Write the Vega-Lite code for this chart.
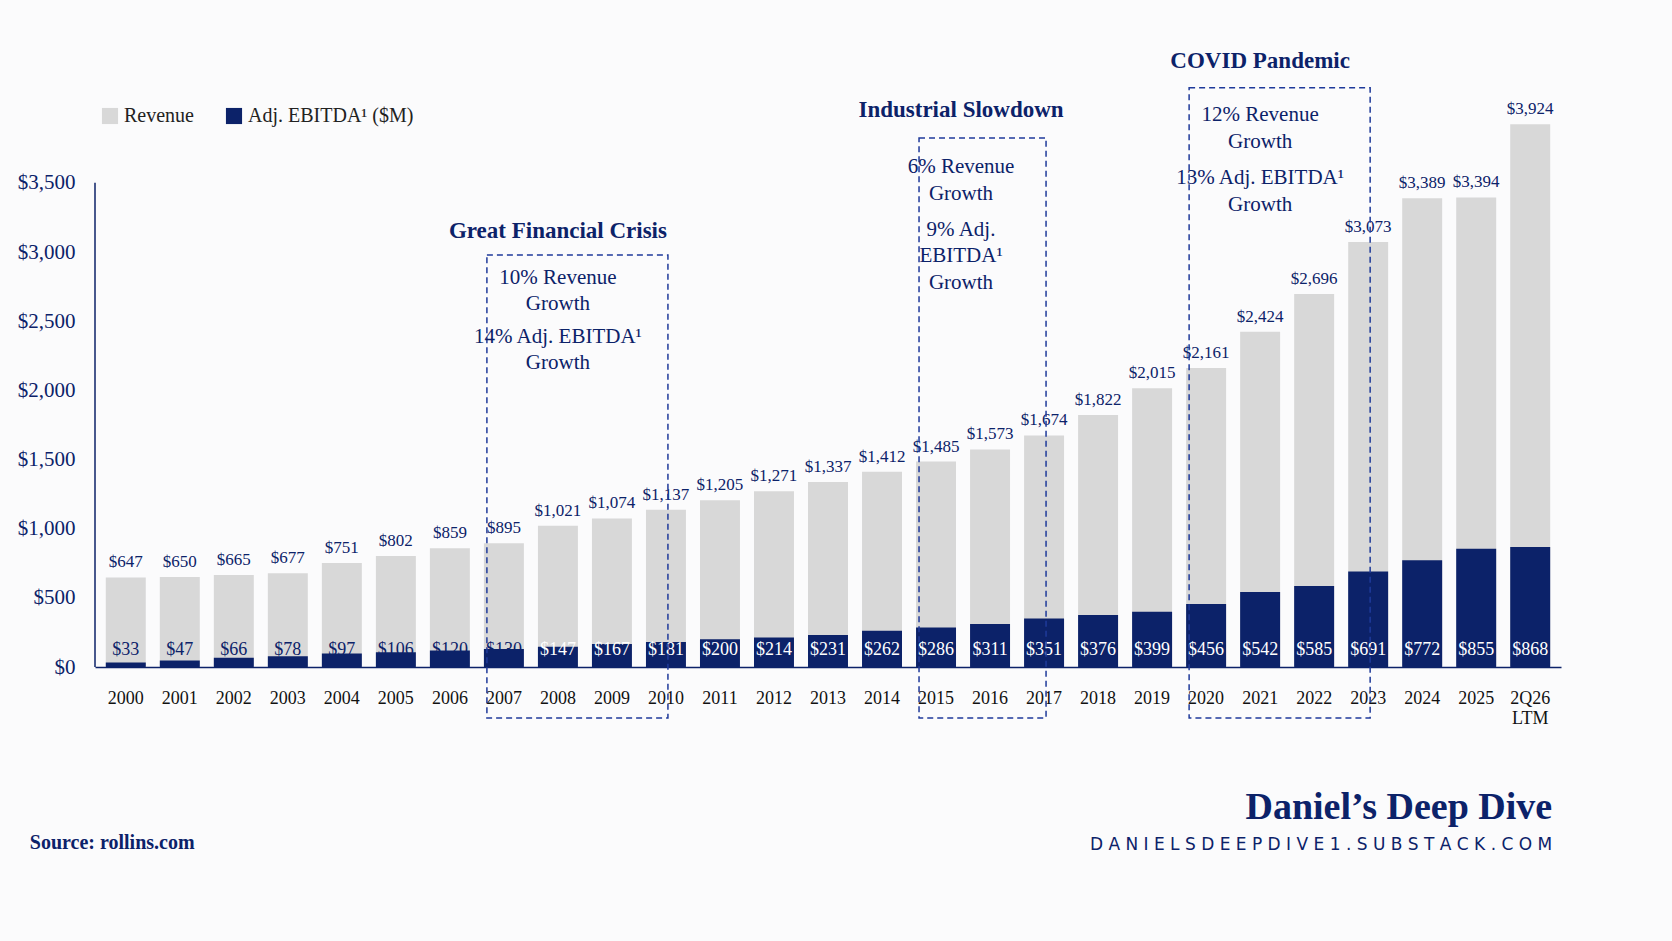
{
  "$schema": "https://vega.github.io/schema/vega-lite/v6.json",
  "autosize": {"type": "none"},
  "width": 1466,
  "height": 664,
  "padding": {"left": 95, "top": 3, "right": 111, "bottom": 274},
  "background": "#fbfbfc",
  "config": {
    "font": "Liberation Serif",
    "view": {"stroke": null},
    "axis": {"grid": false, "ticks": false}
  },
  "datasets": {
    "fin": [
      {"yr": "2000", "rev": 647, "e": 33},
      {"yr": "2001", "rev": 650, "e": 47},
      {"yr": "2002", "rev": 665, "e": 66},
      {"yr": "2003", "rev": 677, "e": 78},
      {"yr": "2004", "rev": 751, "e": 97},
      {"yr": "2005", "rev": 802, "e": 106},
      {"yr": "2006", "rev": 859, "e": 120},
      {"yr": "2007", "rev": 895, "e": 130},
      {"yr": "2008", "rev": 1021, "e": 147},
      {"yr": "2009", "rev": 1074, "e": 167},
      {"yr": "2010", "rev": 1137, "e": 181},
      {"yr": "2011", "rev": 1205, "e": 200},
      {"yr": "2012", "rev": 1271, "e": 214},
      {"yr": "2013", "rev": 1337, "e": 231},
      {"yr": "2014", "rev": 1412, "e": 262},
      {"yr": "2015", "rev": 1485, "e": 286},
      {"yr": "2016", "rev": 1573, "e": 311},
      {"yr": "2017", "rev": 1674, "e": 351},
      {"yr": "2018", "rev": 1822, "e": 376},
      {"yr": "2019", "rev": 2015, "e": 399},
      {"yr": "2020", "rev": 2161, "e": 456},
      {"yr": "2021", "rev": 2424, "e": 542},
      {"yr": "2022", "rev": 2696, "e": 585},
      {"yr": "2023", "rev": 3073, "e": 691},
      {"yr": "2024", "rev": 3389, "e": 772},
      {"yr": "2025", "rev": 3394, "e": 855},
      {"yr": "2Q26 LTM", "rev": 3924, "e": 868}
    ],
    "boxes": [
      {"s": "2007", "f": "2009", "top": 2979},
      {"s": "2015", "f": "2016", "top": 3825},
      {"s": "2020", "f": "2022", "top": 4187}
    ],
    "notes": [
      {"x": "2008", "y": 3153, "t": "Great Financial Crisis", "k": "title", "dx": 0},
      {"x": "2008", "y": 2813, "t": "10% Revenue", "k": "line", "dx": 0},
      {"x": "2008", "y": 2625, "t": "Growth", "k": "line", "dx": 0},
      {"x": "2008", "y": 2386, "t": "14% Adj. EBITDA¹", "k": "line", "dx": 0},
      {"x": "2008", "y": 2198, "t": "Growth", "k": "line", "dx": 0},
      {"x": "2015", "y": 4028, "t": "Industrial Slowdown", "k": "title", "dx": 25},
      {"x": "2015", "y": 3615, "t": "6% Revenue", "k": "line", "dx": 25},
      {"x": "2015", "y": 3420, "t": "Growth", "k": "line", "dx": 25},
      {"x": "2015", "y": 3160, "t": "9% Adj.", "k": "line", "dx": 25},
      {"x": "2015", "y": 2972, "t": "EBITDA¹", "k": "line", "dx": 25},
      {"x": "2015", "y": 2777, "t": "Growth", "k": "line", "dx": 25},
      {"x": "2021", "y": 4382, "t": "COVID Pandemic", "k": "title", "dx": 0},
      {"x": "2021", "y": 3991, "t": "12% Revenue", "k": "line", "dx": 0},
      {"x": "2021", "y": 3796, "t": "Growth", "k": "line", "dx": 0},
      {"x": "2021", "y": 3536, "t": "13% Adj. EBITDA¹", "k": "line", "dx": 0},
      {"x": "2021", "y": 3341, "t": "Growth", "k": "line", "dx": 0}
    ]
  },
  "data": {"name": "fin"},
  "encoding": {
    "x": {
      "field": "yr", "type": "nominal", "sort": null, "title": null,
      "scale": {"paddingInner": 0.26, "paddingOuter": 0.2},
      "axis": {
        "labelAngle": 0, "labelFontSize": 18, "labelColor": "#111", "labelPadding": 22,
        "domainColor": "#0c2269", "domainWidth": 1.5,
        "labelExpr": "datum.label == '2Q26 LTM' ? ['2Q26', 'LTM'] : datum.label"
      }
    }
  },
  "layer": [
    {
      "mark": {"type": "bar"},
      "encoding": {
        "y": {
          "field": "rev", "type": "quantitative", "title": null,
          "scale": {"domain": [0, 4800], "nice": false},
          "axis": {"values": [0, 500, 1000, 1500, 2000, 2500, 3000, 3500], "format": "$,.0f",
                   "labelFontSize": 21, "labelColor": "#0c2269", "labelPadding": 20, "domain": false}
        },
        "color": {
          "datum": "Revenue",
          "scale": {"domain": ["Revenue", "Adj. EBITDA¹   ($M)"], "range": ["#d8d8d8", "#0c2269"]},
          "legend": {
            "title": null, "orient": "none", "direction": "horizontal", "legendX": 5, "legendY": 103,
            "symbolType": "square", "symbolSize": 260, "symbolStrokeWidth": 0,
            "labelFontSize": 20, "labelColor": "#222", "columnPadding": 30, "labelLimit": 400
          }
        }
      }
    },
    {
      "mark": {"type": "bar"},
      "encoding": {
        "y": {"field": "e", "type": "quantitative"},
        "color": {"datum": "Adj. EBITDA¹   ($M)"}
      }
    },
    {
      "data": {"values": [{}]},
      "mark": {"type": "rule", "color": "#0c2269", "strokeWidth": 1.5},
      "encoding": {"x": {"value": 0}, "y": {"datum": 0}, "y2": {"datum": 3500}}
    },
    {
      "mark": {"type": "text", "baseline": "bottom", "dy": -6, "fontSize": 17, "color": "#0c2269"},
      "encoding": {"y": {"field": "rev", "type": "quantitative"}, "text": {"field": "rev", "format": "$,.0f"}}
    },
    {
      "mark": {"type": "text", "baseline": "bottom", "dy": -8, "fontSize": 18},
      "encoding": {
        "y": {"datum": 0},
        "text": {"field": "e", "format": "$,.0f"},
        "color": {"condition": {"test": "datum.e >= 140", "value": "white"}, "value": "#0c2269"}
      }
    },
    {
      "data": {"name": "boxes"},
      "mark": {"type": "rect", "fill": null, "stroke": "#1f3a9a", "strokeWidth": 1.5, "strokeDash": [6, 4], "xOffset": -17, "x2Offset": 56},
      "encoding": {
        "x": {"field": "s", "type": "nominal"},
        "x2": {"field": "f"},
        "y": {"field": "top", "type": "quantitative"},
        "y2": {"datum": -369}
      }
    },
    {
      "data": {"name": "notes"},
      "transform": [{"filter": "datum.k == 'title' && datum.dx == 0"}],
      "mark": {"type": "text", "fontSize": 23, "fontWeight": "bold", "color": "#0c2269"},
      "encoding": {
        "x": {"field": "x", "type": "nominal"},
        "y": {"field": "y", "type": "quantitative"},
        "text": {"field": "t"}
      }
    },
    {
      "data": {"name": "notes"},
      "transform": [{"filter": "datum.k == 'title' && datum.dx > 0"}],
      "mark": {"type": "text", "fontSize": 23, "fontWeight": "bold", "color": "#0c2269", "dx": 25},
      "encoding": {
        "x": {"field": "x", "type": "nominal"},
        "y": {"field": "y", "type": "quantitative"},
        "text": {"field": "t"}
      }
    },
    {
      "data": {"name": "notes"},
      "transform": [{"filter": "datum.k == 'line' && datum.dx == 0"}],
      "mark": {"type": "text", "fontSize": 21, "color": "#0c2269"},
      "encoding": {
        "x": {"field": "x", "type": "nominal"},
        "y": {"field": "y", "type": "quantitative"},
        "text": {"field": "t"}
      }
    },
    {
      "data": {"name": "notes"},
      "transform": [{"filter": "datum.k == 'line' && datum.dx > 0"}],
      "mark": {"type": "text", "fontSize": 21, "color": "#0c2269", "dx": 25},
      "encoding": {
        "x": {"field": "x", "type": "nominal"},
        "y": {"field": "y", "type": "quantitative"},
        "text": {"field": "t"}
      }
    },
    {
      "data": {"values": [{"x": "2Q26 LTM"}]},
      "mark": {"type": "text", "align": "right", "fontSize": 38, "fontWeight": "bold", "color": "#0c2269", "dx": 22},
      "encoding": {"x": {"field": "x", "type": "nominal"}, "y": {"datum": -1020}, "text": {"value": "Daniel’s Deep Dive"}}
    },
    {
      "data": {"values": [{"x": "2Q26 LTM"}]},
      "mark": {"type": "text", "align": "right", "fontSize": 17, "font": "DejaVu Sans", "color": "#0c2269", "dx": 22},
      "encoding": {"x": {"field": "x", "type": "nominal"}, "y": {"datum": -1287}, "text": {"value": "D A N I E L S D E E P D I V E 1 . S U B S T A C K . C O M"}}
    },
    {
      "data": {"values": [{"x": "2000"}]},
      "mark": {"type": "text", "align": "left", "fontSize": 20, "fontWeight": "bold", "color": "#0c2269", "dx": -96},
      "encoding": {"x": {"field": "x", "type": "nominal"}, "y": {"datum": -1273}, "text": {"value": "Source: rollins.com"}}
    }
  ]
}
